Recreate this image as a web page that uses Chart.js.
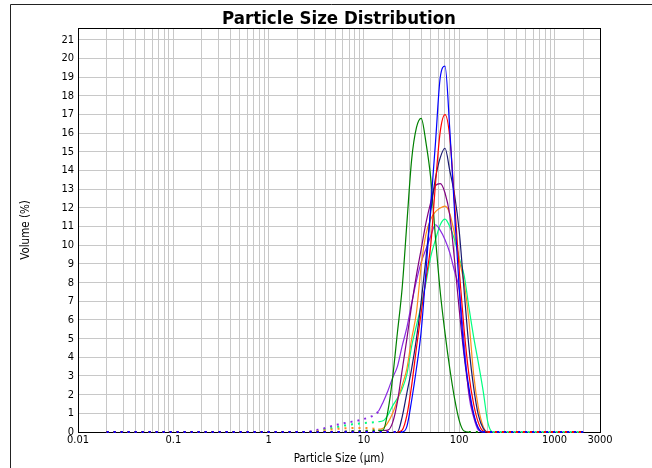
<!DOCTYPE html>
<html>
<head>
<meta charset="utf-8">
<title>Particle Size Distribution</title>
<script src="https://cdn.jsdelivr.net/npm/chart.js@4.4.1/dist/chart.umd.min.js"></script>
<style>
  html, body { margin: 0; padding: 0; background: #fff; overflow: hidden; }
</style>
</head>
<body>
<canvas id="psd" width="652" height="468"></canvas>
<script>
// size classes (µm)
const sizes = [
  0.020, 0.022, 0.025, 0.028, 0.032, 0.036, 0.040, 0.045, 0.050, 0.056,
  0.063, 0.071, 0.080, 0.089, 0.100, 0.112, 0.126, 0.142, 0.159, 0.178,
  0.200, 0.224, 0.252, 0.283, 0.317, 0.356, 0.399, 0.448, 0.502, 0.564,
  0.632, 0.710, 0.796, 0.893, 1.002, 1.125, 1.262, 1.416, 1.589, 1.783,
  2.000, 2.244, 2.518, 2.825, 3.170, 3.557, 3.991, 4.477, 5.024, 5.637,
  6.325, 7.096, 7.962, 8.934, 10.024, 11.247, 12.619, 14.159, 15.887, 17.825,
  20.000, 22.440, 25.179, 28.251, 31.698, 35.566, 39.905, 44.774, 50.238, 56.368,
  63.246, 70.963, 79.621, 89.337, 100.237, 112.468, 126.191, 141.589, 158.866, 178.250,
  200.000, 224.404, 251.785, 282.508, 316.979, 355.656, 399.052, 447.744, 502.377, 563.677,
  632.456, 709.627, 796.214, 893.367, 1002.374, 1124.683, 1261.915, 1415.892, 1588.656, 1782.502,
  2000.000
];

const xTickLabels = [0.01, 0.1, 1, 10, 100, 1000, 3000];
const yTicks = [0, 1, 2, 3, 4, 5, 6, 7, 8, 9, 10, 11, 12, 13, 14, 15, 16, 17, 18, 19, 20, 21];

// volume % per class, one array per measurement
const blue = [
  0, 0, 0, 0, 0, 0, 0, 0, 0, 0,
  0, 0, 0, 0, 0, 0, 0, 0, 0, 0,
  0, 0, 0, 0, 0, 0, 0, 0, 0, 0,
  0, 0, 0, 0, 0, 0, 0, 0, 0, 0,
  0, 0, 0, 0, 0, 0, 0, 0, 0, 0,
  0, 0, 0, 0, 0, 0, 0, 0, 0, 0,
  0, 0, 0, 0.3, 1.7, 3.4, 5.4, 8.6, 12.1, 15.5,
  19.0, 19.6, 16.2, 11.8, 7.6, 4.3, 2.4, 1.0, 0.2, 0,
  0, 0, 0, 0, 0, 0, 0, 0, 0, 0,
  0, 0, 0, 0, 0, 0, 0, 0, 0, 0,
  0
];
const red = [
  0, 0, 0, 0, 0, 0, 0, 0, 0, 0,
  0, 0, 0, 0, 0, 0, 0, 0, 0, 0,
  0, 0, 0, 0, 0, 0, 0, 0, 0, 0,
  0, 0, 0, 0, 0, 0, 0, 0, 0, 0,
  0, 0, 0, 0, 0, 0, 0, 0, 0, 0,
  0, 0, 0, 0, 0, 0, 0, 0, 0, 0,
  0, 0, 0.1, 0.9, 2.5, 4.5, 6.4, 8.2, 10.0, 13.3,
  16.1, 17.0, 15.8, 12.3, 8.6, 5.5, 3.1, 1.5, 0.5, 0.05,
  0, 0, 0, 0, 0, 0, 0, 0, 0, 0,
  0, 0, 0, 0, 0, 0, 0, 0, 0, 0,
  0
];
const navy = [
  0, 0, 0, 0, 0, 0, 0, 0, 0, 0,
  0, 0, 0, 0, 0, 0, 0, 0, 0, 0,
  0, 0, 0, 0, 0, 0, 0, 0, 0, 0,
  0, 0, 0, 0, 0, 0, 0, 0, 0, 0,
  0, 0, 0, 0, 0, 0, 0, 0, 0, 0,
  0, 0, 0, 0, 0, 0, 0, 0, 0, 0,
  0, 0, 0.8, 2.1, 3.4, 5.0, 7.0, 9.3, 11.8, 13.6,
  14.7, 15.2, 14.0, 12.7, 10.7, 7.6, 4.6, 2.4, 0.9, 0.2,
  0, 0, 0, 0, 0, 0, 0, 0, 0, 0,
  0, 0, 0, 0, 0, 0, 0, 0, 0, 0,
  0
];
const green = [
  0, 0, 0, 0, 0, 0, 0, 0, 0, 0,
  0, 0, 0, 0, 0, 0, 0, 0, 0, 0,
  0, 0, 0, 0, 0, 0, 0, 0, 0, 0,
  0, 0, 0, 0, 0, 0, 0, 0, 0, 0,
  0, 0, 0, 0, 0, 0, 0, 0, 0, 0,
  0.02, 0.03, 0.04, 0.05, 0.06, 0.07, 0.08, 0.09, 0.1, 1.1,
  2.9, 5.3, 7.7, 11.2, 14.6, 16.3, 16.8, 15.5, 13.6, 10.4,
  7.5, 5.3, 3.4, 1.8, 0.6, 0.05, 0, 0, 0, 0,
  0, 0, 0, 0, 0, 0, 0, 0, 0, 0,
  0, 0, 0, 0, 0, 0, 0, 0, 0, 0,
  0
];
const purple = [
  0, 0, 0, 0, 0, 0, 0, 0, 0, 0,
  0, 0, 0, 0, 0, 0, 0, 0, 0, 0,
  0, 0, 0, 0, 0, 0, 0, 0, 0, 0,
  0, 0, 0, 0, 0, 0, 0, 0, 0, 0,
  0, 0, 0, 0, 0, 0, 0, 0, 0, 0,
  0.02, 0.03, 0.04, 0.05, 0.05, 0.06, 0.06, 0.07, 0.08, 0.1,
  0.5, 1.6, 3.3, 5.0, 6.8, 8.4, 9.8, 11.2, 12.3, 13.2,
  13.3, 12.8, 11.6, 9.2, 6.5, 4.1, 2.2, 0.9, 0.2, 0,
  0, 0, 0, 0, 0, 0, 0, 0, 0, 0,
  0, 0, 0, 0, 0, 0, 0, 0, 0, 0,
  0
];
const orange = [
  0, 0, 0, 0, 0, 0, 0, 0, 0, 0,
  0, 0, 0, 0, 0, 0, 0, 0, 0, 0,
  0, 0, 0, 0, 0, 0, 0, 0, 0, 0,
  0, 0, 0, 0, 0, 0, 0, 0, 0, 0,
  0, 0, 0, 0, 0.03, 0.06, 0.1, 0.13, 0.16, 0.18,
  0.2, 0.21, 0.22, 0.22, 0.22, 0.2, 0.18, 0.15, 0.2, 0.5,
  1.0, 1.7, 2.5, 3.4, 5.0, 6.4, 8.9, 10.6, 11.4, 11.8,
  12.0, 12.1, 11.7, 10.6, 9.2, 8.0, 6.0, 3.1, 1.3, 0.3,
  0, 0, 0, 0, 0, 0, 0, 0, 0, 0,
  0, 0, 0, 0, 0, 0, 0, 0, 0, 0,
  0
];
const violet = [
  0, 0, 0, 0, 0, 0, 0, 0, 0, 0,
  0, 0, 0, 0, 0, 0, 0, 0, 0, 0,
  0, 0, 0, 0, 0, 0, 0, 0, 0, 0,
  0, 0, 0, 0, 0, 0, 0, 0, 0, 0,
  0, 0, 0, 0.05, 0.1, 0.15, 0.22, 0.3, 0.37, 0.42,
  0.48, 0.53, 0.58, 0.63, 0.7, 0.78, 0.9, 1.1, 1.6, 2.2,
  2.9, 3.5, 4.6, 5.6, 6.9, 8.1, 9.1, 9.8, 10.5, 11.1,
  10.8, 10.3, 9.6, 8.6, 7.6, 4.8, 2.0, 0.8, 0.1, 0,
  0, 0, 0, 0, 0, 0, 0, 0, 0, 0,
  0, 0, 0, 0, 0, 0, 0, 0, 0, 0,
  0
];
const spring = [
  0, 0, 0, 0, 0, 0, 0, 0, 0, 0,
  0, 0, 0, 0, 0, 0, 0, 0, 0, 0,
  0, 0, 0, 0, 0, 0, 0, 0, 0, 0,
  0, 0, 0, 0, 0, 0, 0, 0, 0, 0,
  0, 0, 0, 0, 0.05, 0.1, 0.15, 0.2, 0.25, 0.3,
  0.35, 0.4, 0.42, 0.45, 0.48, 0.5, 0.52, 0.55, 0.6, 0.9,
  1.4, 1.8, 2.3, 3.1, 4.6, 5.7, 6.8, 8.0, 9.4, 10.3,
  11.1, 11.4, 11.0, 10.3, 9.3, 8.4, 6.7, 5.1, 3.7, 2.2,
  0.5, 0, 0, 0, 0, 0, 0, 0, 0, 0,
  0, 0, 0, 0, 0, 0, 0, 0, 0, 0,
  0
];

const FONT = "'DejaVu Sans Condensed', 'DejaVu Sans', sans-serif";

// below ~14 µm and along the zero line the curves are drawn dotted
function isTail(ctx) {
  const a = ctx.p0.parsed, b = ctx.p1.parsed;
  return b.x <= 14.2 || (a.y === 0 && b.y === 0);
}

function series(data, color, order) {
  return {
    data: sizes.map((s, i) => ({ x: s, y: data[i] })),
    borderColor: color,
    borderWidth: 1.2,
    pointRadius: 0,
    cubicInterpolationMode: 'monotone',
    fill: false,
    order: order,
    clip: 3,
    segment: {
      borderDash: ctx => isTail(ctx) ? [2, 5] : undefined,
      borderWidth: ctx => isTail(ctx) ? 2 : undefined
    }
  };
}

const framePlugin = {
  id: 'frame',
  beforeDatasetsDraw(chart) {
    const { ctx, chartArea: a } = chart;
    ctx.save();
    ctx.strokeStyle = '#000';
    ctx.lineWidth = 1;
    ctx.strokeRect(Math.round(a.left) + 0.5, Math.round(a.top) + 0.5,
      Math.round(a.right - a.left), Math.round(a.bottom - a.top));
    ctx.restore();
  },
  afterDraw(chart) {
    const ctx = chart.ctx;
    ctx.save();
    ctx.strokeStyle = '#222';
    ctx.lineWidth = 1;
    ctx.beginPath();
    ctx.moveTo(10.5, 468);
    ctx.lineTo(10.5, 4.5);
    ctx.lineTo(652, 4.5);
    ctx.stroke();
    ctx.restore();
  }
};

new Chart(document.getElementById('psd'), {
  type: 'line',
  data: {
    datasets: [
      series(blue, '#0000ff', 1),
      series(red, '#ff0000', 2),
      series(navy, '#191970', 3),
      series(green, '#008000', 4),
      series(purple, '#800080', 5),
      series(orange, '#ff8c1a', 6),
      series(violet, '#8a2be2', 7),
      series(spring, '#00ff7f', 8)
    ]
  },
  options: {
    responsive: false,
    animation: false,
    devicePixelRatio: 1,
    layout: { padding: { left: 10, right: 52, top: 0, bottom: 0 } },
    plugins: {
      legend: { display: false },
      tooltip: { enabled: false },
      title: {
        display: true,
        text: 'Particle Size Distribution',
        color: '#000',
        fullSize: false,
        font: { family: FONT, size: 18.5, weight: 'bold', lineHeight: 1 },
        padding: { top: 9.5, bottom: 0 }
      }
    },
    scales: {
      x: {
        type: 'logarithmic',
        min: 0.01,
        max: 3000,
        afterFit: s => { s.height = 36; },
        afterBuildTicks: s => {
          const t = [];
          for (let d = -2; d <= 3; d++) {
            for (let m = 1; m <= 9; m++) {
              const v = Number((m * Math.pow(10, d)).toPrecision(3));
              if (v <= 3000) t.push({ value: v });
            }
          }
          s.ticks = t;
        },
        grid: { color: '#c8c8c8', lineWidth: 1, drawTicks: false },
        border: { display: false },
        ticks: {
          autoSkip: false,
          maxRotation: 0,
          padding: 2,
          color: '#000',
          font: { family: FONT, size: 11 },
          callback: v => {
            const hit = xTickLabels.find(l => Math.abs(l - v) < l * 1e-6);
            return hit === undefined ? '' : String(hit);
          }
        },
        title: {
          display: true,
          text: 'Particle Size (µm)',
          color: '#000',
          font: { family: FONT, size: 11.5 },
          padding: { top: 0, bottom: 2 }
        }
      },
      y: {
        min: 0,
        max: 21.64,
        afterFit: s => { s.width = 68; },
        afterBuildTicks: s => { s.ticks = yTicks.map(v => ({ value: v })); },
        grid: { color: '#c8c8c8', lineWidth: 1, drawTicks: false },
        border: { display: false },
        ticks: {
          padding: 4,
          color: '#000',
          font: { family: FONT, size: 11 }
        },
        title: {
          display: true,
          text: 'Volume (%)',
          color: '#000',
          font: { family: FONT, size: 11.5 },
          padding: { top: 9, bottom: 0 }
        }
      }
    }
  },
  plugins: [framePlugin]
});
</script>
</body>
</html>
